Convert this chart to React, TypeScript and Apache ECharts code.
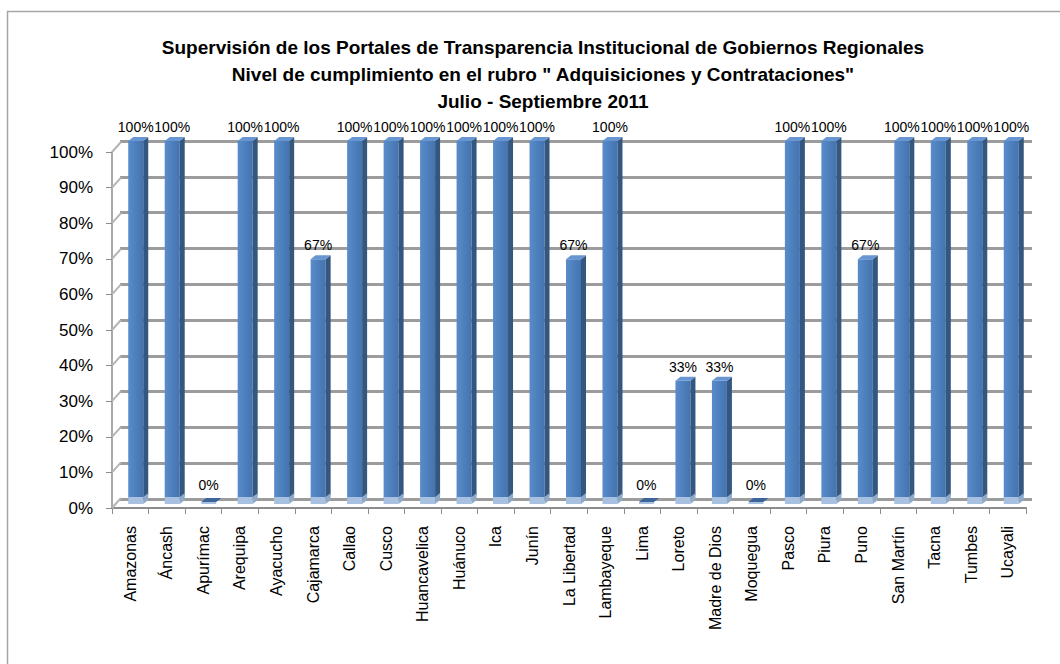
import React, { useEffect, useRef } from "react";
import * as echarts from "echarts";

const titleLines = [
  "Supervisión de los Portales de Transparencia Institucional de Gobiernos Regionales",
  'Nivel de cumplimiento en el rubro " Adquisiciones y Contrataciones"',
  "Julio - Septiembre 2011",
];

const categories = [
  "Amazonas", "Áncash", "Apurímac", "Arequipa", "Ayacucho", "Cajamarca", "Callao",
  "Cusco", "Huancavelica", "Huánuco", "Ica", "Junín", "La Libertad", "Lambayeque",
  "Lima", "Loreto", "Madre de Dios", "Moquegua", "Pasco", "Piura", "Puno",
  "San Martín", "Tacna", "Tumbes", "Ucayali",
];

const values = [
  100, 100, 0, 100, 100, 67, 100, 100, 100, 100, 100, 100, 67, 100, 0, 33, 33, 0,
  100, 100, 67, 100, 100, 100, 100,
];

const yTicks = [0, 10, 20, 30, 40, 50, 60, 70, 80, 90, 100];

const FONT = "Liberation Sans, Arial, sans-serif";

export default function App() {
  const ref = useRef<HTMLDivElement>(null);

  useEffect(() => {
    if (!ref.current) return;
    const chart = echarts.init(ref.current, null, { renderer: "svg" });

    const frontGrad = new echarts.graphic.LinearGradient(0, 0, 1, 0, [
      { offset: 0, color: "#5a8ccb" },
      { offset: 0.6, color: "#4b7dba" },
      { offset: 1, color: "#4474b0" },
    ]);

    const renderBar = (params: any, api: any) => {
      const i = api.value(0);
      const v = api.value(1);
      const top = api.coord([i, v]);
      const base = api.coord([i, 0]);
      const cx = top[0];
      const fw = 15;
      const sw = 5;
      const dy = 4;
      const x0 = cx - 10;
      const x1 = x0 + fw;
      const x2 = x1 + sw;
      const ty = top[1];
      const by = base[1];
      const children: any[] = [];
      if (v > 0) {
        children.push({
          type: "rect",
          shape: { x: x0, y: ty, width: fw, height: by - ty },
          style: { fill: frontGrad },
        });
        children.push({
          type: "polygon",
          shape: { points: [[x1, ty], [x2, ty - dy], [x2, by - dy], [x1, by]] },
          style: { fill: "#34577f" },
        });
        children.push({
          type: "polygon",
          shape: { points: [[x0, ty], [x0 + sw, ty - dy], [x2, ty - dy], [x1, ty]] },
          style: { fill: "#6796d2" },
        });
        children.push({
          type: "rect",
          shape: { x: x0, y: by - 2, width: fw, height: 7 },
          style: { fill: "#a9c1e0" },
        });
        children.push({
          type: "polygon",
          shape: { points: [[x1, by - 2], [x2, by - 2 - dy], [x2, by + 5 - dy], [x1, by + 5]] },
          style: { fill: "#8fa9c9" },
        });
      } else {
        children.push({
          type: "polygon",
          shape: { points: [[x0, by + 3], [x0 + sw, by - 1], [x2, by - 1], [x1, by + 3]] },
          style: { fill: "#3d659a" },
        });
        children.push({
          type: "rect",
          shape: { x: x0, y: by + 3, width: fw, height: 2 },
          style: { fill: "#a9c1e0" },
        });
      }
      children.push({
        type: "text",
        style: {
          text: v + "%",
          x: x0 + fw / 2,
          y: ty - 14,
          fill: "#000",
          font: `14px ${FONT}`,
          align: "center",
          verticalAlign: "middle",
          textAlign: "center",
          textVerticalAlign: "middle",
        },
      });
      return { type: "group", children };
    };

    const renderWall = (params: any, api: any) => {
      const v = api.value(0);
      const p = api.coord([0, v]);
      const half = api.size([1, 0])[0] / 2;
      const lx = p[0] - half;
      return {
        type: "line",
        shape: { x1: lx, y1: p[1], x2: lx + 9, y2: p[1] - 10 },
        style: { stroke: "#b4b4b4", lineWidth: 2 },
      };
    };

    chart.setOption({
      animation: false,
      backgroundColor: "#ffffff",
      title: {
        text: titleLines.join("\n"),
        left: 538,
        textAlign: "center",
        top: 29,
        textStyle: {
          fontFamily: FONT,
          fontWeight: "bold",
          fontSize: 19,
          lineHeight: 27,
          color: "#000",
        },
      },
      graphic: [
        {
          type: "rect",
          shape: { x: 7.5, y: 11.5, width: 1100, height: 700 },
          style: { fill: "none", stroke: "#a6a6a6", lineWidth: 1.5 },
          silent: true,
          z: -10,
        },
      ],
      grid: [
        { left: 120, right: 28, top: 141, bottom: 165 },
        { left: 112, right: 34, top: 152, bottom: 156 },
      ],
      xAxis: [
        {
          type: "category",
          gridIndex: 0,
          data: categories,
          axisLine: { show: false },
          axisTick: { show: false },
          axisLabel: { show: false },
        },
        {
          type: "category",
          gridIndex: 1,
          data: categories,
          axisLine: { show: true, lineStyle: { color: "#8c8c8c", width: 2 } },
          axisTick: { show: true, length: 6, lineStyle: { color: "#8c8c8c", width: 1 } },
          axisLabel: {
            rotate: 90,
            interval: 0,
            margin: 18,
            color: "#000",
            fontSize: 16,
            fontFamily: FONT,
          },
        },
      ],
      yAxis: [
        {
          type: "value",
          gridIndex: 0,
          min: 0,
          max: 100,
          interval: 10,
          axisLine: { show: false },
          axisTick: { show: false },
          axisLabel: { show: false },
          splitLine: { show: true, lineStyle: { color: "#9c9c9c", width: 3 } },
        },
        {
          type: "value",
          gridIndex: 1,
          min: 0,
          max: 100,
          interval: 10,
          axisLine: { show: true, lineStyle: { color: "#8c8c8c", width: 1.5 } },
          axisTick: { show: true, length: 6, lineStyle: { color: "#8c8c8c" } },
          axisLabel: {
            formatter: "{value}%",
            color: "#000",
            fontSize: 17,
            fontFamily: FONT,
            margin: 19,
          },
          splitLine: { show: false },
        },
      ],
      series: [
        {
          type: "custom",
          name: "wall",
          xAxisIndex: 1,
          yAxisIndex: 1,
          data: yTicks.map((t) => [t]),
          encode: { y: 0 },
          renderItem: renderWall,
          silent: true,
          z: 1,
        },
        {
          type: "custom",
          name: "Cumplimiento",
          xAxisIndex: 0,
          yAxisIndex: 0,
          data: values.map((v, i) => [i, v]),
          encode: { x: 0, y: 1 },
          renderItem: renderBar,
          z: 3,
        },
      ],
    });

    return () => chart.dispose();
  }, []);

  return (
    <div
      ref={ref}
      style={{ position: "fixed", left: 0, top: 0, width: 1060, height: 664 }}
    />
  );
}
